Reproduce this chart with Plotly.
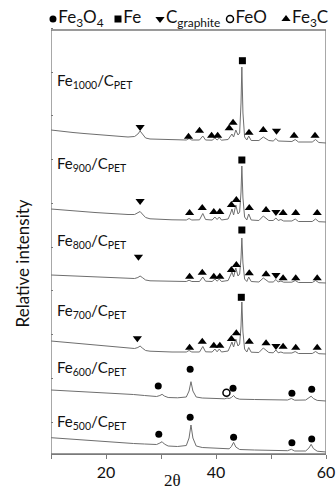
import plotly.graph_objects as go

# ---- XRD patterns (2theta in degrees, intensity in arbitrary units above each pattern's baseline) ----
samples = ["1000", "900", "800", "700", "600", "500"]
offsets = [311, 232, 171, 100, 53, 2]  # vertical stacking of the patterns

# Fe/C samples carbonised at 700-1000 share the same set of reflections
two_theta_c = [10, 12, 14, 16, 18, 20, 22, 24, 25.2, 25.8, 26.2, 26.6, 27.2, 28, 30, 32,
               34.6, 35.1, 35.6, 37.0, 37.6, 38.1, 39.3, 39.8, 40.2, 40.6, 41.0, 42.2,
               42.6, 42.9, 43.2, 43.6, 44.0, 44.3, 44.55, 44.7, 44.9, 45.2, 45.6, 45.95,
               46.4, 47.8, 48.6, 49.1, 49.6, 50.4, 50.9, 51.3, 51.8, 52.3, 53.8, 54.4,
               55.0, 57.5, 58.1, 58.7, 60]
int_1000 = [13, 11.5, 10.5, 9.5, 8.5, 7.5, 6.5, 6, 6.5, 9, 12, 9, 5, 4, 3.5, 3.2,
            3, 4.5, 3, 3, 7, 3, 2.8, 5, 3, 5, 2.8, 3.5,
            6, 9, 6, 13, 8, 10, 40, 76, 30, 6, 3, 7,
            2.5, 2.5, 6, 4, 2.5, 2, 4.5, 2, 2, 1.5, 1.5, 3.5,
            1, 1, 3.5, 0.5, 0]
int_900 = [13, 12, 11, 10.2, 9.5, 8.8, 8, 7.5, 7.5, 9, 10.5, 8, 4.5, 3.2, 2.5, 2.2,
           2, 3.5, 2, 2.2, 8.5, 2.5, 2, 5, 2.5, 5, 2, 3,
           8, 13, 7, 17, 8, 10, 30, 56, 24, 5, 2, 8,
           2, 1.5, 6, 4, 1.5, 1.5, 4, 1.5, 2.5, 1, 1, 3,
           0.5, 0.5, 3, 0.3, 0]
int_800 = [8, 7.5, 7, 6.5, 6, 5.5, 5, 4.5, 4.5, 5.5, 7, 5.5, 3, 2.2, 1.8, 1.6,
           1.5, 2.8, 1.5, 1.5, 6, 1.8, 1.5, 4, 1.8, 4, 1.5, 2.5,
           7, 11, 6, 15, 7, 9, 25, 45, 20, 4, 1.5, 6,
           1.5, 1, 5, 3, 1, 1, 3.5, 1, 2, 0.8, 0.8, 2.5,
           0.5, 0.5, 2.5, 0.3, 0]
int_700 = [13, 12, 11, 10, 9, 8, 7, 6, 5.5, 6.5, 8, 6, 3.5, 2.8, 2.3, 2,
           2, 3.5, 2, 2, 7.5, 2.2, 2, 5, 2.2, 5, 2, 3,
           8, 12, 7, 15, 8, 10, 28, 52, 22, 5, 2, 6.5,
           1.8, 1.5, 6, 4, 1.5, 1.2, 4, 1.2, 2, 1, 1, 2.5,
           0.5, 0.5, 2.5, 0.3, 0]

# Fe/C samples carbonised at 500-600 (oxide phases)
two_theta_o = [10, 13, 16, 19, 22, 25, 27, 29.2, 29.8, 30.2, 30.6, 31.3, 33, 34.6, 35.1,
               35.45, 35.8, 36.4, 37.5, 40, 41.6, 42.0, 42.4, 42.8, 43.2, 43.6, 44.3, 47,
               50, 53, 53.7, 54.3, 56.3, 56.9, 57.3, 57.7, 58.4, 60]
int_600 = [11, 10.2, 9.4, 8.5, 7.5, 6.5, 5.5, 4.5, 5.5, 6.7, 5, 3.5, 3.2, 4, 10,
           19.3, 10, 4, 3, 2.5, 2.2, 3, 2.5, 3.5, 5.5, 3, 1.8, 1.5,
           1.2, 1, 2.5, 0.8, 1, 3, 4.8, 2.5, 0.6, 0]
int_500 = [14.3, 13, 12, 11, 9.5, 8.5, 8, 7.5, 9, 10.3, 8, 6, 5.5, 6.5, 14,
           27, 14, 6, 4.5, 3.5, 3, 3, 3.2, 5.5, 9.7, 5, 2.5, 2,
           1.5, 1.3, 2.7, 1, 1, 4, 7.7, 3.5, 0.8, 0]

# ---- phase assignments (G = graphite, C = Fe3C, F = Fe, M = Fe3O4, W = FeO) ----
pk_1000_x = [26.2, 35.0, 37.0, 39.2, 40.3, 42.4, 43.1, 44.8, 46.0, 48.6, 51.0, 54.2, 58.0]
pk_1000_h = [16, 6.3, 12.3, 7.3, 7.3, 14.7, 20.3, 82.3, 10.3, 13, 12.3, 7.3, 7.3]
pk_1000_p = ["G", "C", "C", "C", "C", "C", "C", "F", "C", "C", "G", "C", "C"]

pk_900_x = [26.2, 35.2, 37.5, 39.6, 40.7, 42.8, 43.7, 44.7, 46.05, 49.1, 50.9, 52.2, 54.5, 58.4]
pk_900_h = [21, 9, 14, 10, 10, 17, 22, 62, 14, 12, 10, 9, 9, 9]
pk_900_p = ["G", "C", "C", "C", "C", "C", "C", "F", "C", "C", "G", "C", "C", "C"]

pk_800_x = [25.9, 35.2, 37.5, 39.6, 40.7, 42.8, 43.7, 44.7, 46.05, 49.1, 50.9, 52.2, 54.5, 58.4]
pk_800_h = [26.3, 6.3, 10.3, 6.3, 6.3, 13, 18, 53, 9.7, 8.7, 8, 4.7, 4.7, 4.7]
pk_800_p = pk_900_p

pk_700_x = [25.7, 35.2, 37.5, 39.6, 40.7, 42.8, 43.7, 44.6, 46.05, 49.1, 50.9, 52.2, 54.5, 58.4]
pk_700_h = [15.7, 6.3, 12.3, 8.3, 8.3, 15, 20.7, 56.7, 12.3, 10.7, 8, 7.3, 6.3, 6.3]
pk_700_p = pk_900_p

pk_600_x = [29.5, 35.3, 41.9, 43.1, 53.8, 57.4]
pk_600_h = [15, 31.7, 8.3, 12.7, 7.7, 11.7]
pk_600_p = ["M", "M", "W", "M", "M", "M"]

pk_500_x = [29.6, 35.3, 43.2, 53.8, 57.4]
pk_500_h = [17.7, 34.7, 14.7, 9.3, 13]
pk_500_p = ["M", "M", "M", "M", "M"]

x_ticks = [10, 20, 30, 40, 50, 60]
x_tick_text = ["", "20", "", "40", "", "60"]

# phase key shown above the framed panel
key_phase = ["M", "F", "G", "W", "C"]
key_name = ["Fe<sub>3</sub>O<sub>4</sub>", "Fe", "C<sub>graphite</sub>", "FeO",
            "Fe<sub>3</sub>C"]

# ---- styling ----
LINE = "#6e6e6e"
FRAME = "#7a7a7a"
FONT = "Lato"
TOP = 424          # top edge of the framed panel (data units)
KEY_Y = 435        # row of the phase key (data units, above the panel)
key_pos = [10.36, 22.18, 29.82, 42.55, 52.73]
phase_symbol = {"G": "triangle-down", "C": "triangle-up", "F": "square",
                "M": "circle", "W": "circle-open"}
phase_size = {"G": 8, "C": 8, "F": 7, "M": 7, "W": 7}

patterns = [
    (two_theta_c, int_1000, pk_1000_x, pk_1000_h, pk_1000_p),
    (two_theta_c, int_900, pk_900_x, pk_900_h, pk_900_p),
    (two_theta_c, int_800, pk_800_x, pk_800_h, pk_800_p),
    (two_theta_c, int_700, pk_700_x, pk_700_h, pk_700_p),
    (two_theta_o, int_600, pk_600_x, pk_600_h, pk_600_p),
    (two_theta_o, int_500, pk_500_x, pk_500_h, pk_500_p),
]

fig = go.Figure()
for (tx, ty, mx, mh, mp), off in zip(patterns, offsets):
    fig.add_trace(go.Scatter(x=tx, y=[v + off for v in ty], mode="lines",
                             line=dict(color=LINE, width=1), showlegend=False,
                             hoverinfo="skip"))
    for ph in ["G", "C", "F", "M", "W"]:
        xs = [x for x, p in zip(mx, mp) if p == ph]
        ys = [h + off for h, p in zip(mh, mp) if p == ph]
        if not xs:
            continue
        fig.add_trace(go.Scatter(
            x=xs, y=ys, mode="markers", showlegend=False,
            marker=dict(symbol=phase_symbol[ph], size=phase_size[ph], color="black",
                        line=dict(color="black", width=1.5 if ph == "W" else 0))))

# phase key: symbol followed by the phase name
for ph, name, kx in zip(key_phase, key_name, key_pos):
    fig.add_trace(go.Scatter(
        x=[kx], y=[KEY_Y], mode="markers+text", text=[name],
        textposition="middle right", cliponaxis=False, showlegend=False,
        hoverinfo="skip",
        textfont=dict(family=FONT, size=17, color="#111"),
        marker=dict(symbol=phase_symbol[ph], size=phase_size[ph], color="black",
                    line=dict(color="black", width=1.5 if ph == "W" else 0))))

# framed panel (the y range continues above it to hold the phase key)
fig.add_shape(type="rect", xref="x", yref="y", x0=10, x1=60, y0=0, y1=TOP,
              line=dict(color=FRAME, width=1.3), fillcolor="rgba(0,0,0,0)", layer="above")

# sample labels
label_y = [373, 290, 213, 143, 86, 32]
for s, ly in zip(samples, label_y):
    fig.add_annotation(x=10.7, y=ly, xref="x", yref="y", xanchor="left", yanchor="middle",
                       text=f"Fe<sub>{s}</sub>/C<sub>PET</sub>", showarrow=False,
                       font=dict(family=FONT, size=15, color="#111"))

# axis titles
fig.add_annotation(x=-0.105, y=0.42, xref="paper", yref="paper", xanchor="center",
                   yanchor="middle", textangle=-90, showarrow=False,
                   text="Relative intensity",
                   font=dict(family=FONT, size=17, color="#111"))
fig.add_annotation(x=0.44, y=-0.032, xref="paper", yref="paper", xanchor="center",
                   yanchor="top", showarrow=False, text="2θ",
                   font=dict(family="Liberation Serif", size=17, color="#111"))

fig.update_xaxes(range=[10, 60], tickvals=x_ticks, ticktext=x_tick_text,
                 ticks="outside", ticklen=4, tickcolor=FRAME, tickwidth=1,
                 showline=True, linecolor=FRAME, linewidth=1.3, mirror=False,
                 showgrid=False, zeroline=False,
                 tickfont=dict(family=FONT, size=16, color="#111"))
fig.update_yaxes(range=[0, 454], tick0=32, dtick=43.75, ticks="inside", ticklen=2,
                 tickcolor=FRAME, showticklabels=False, showline=False,
                 showgrid=False, zeroline=False)
fig.update_layout(width=336, height=487, margin=dict(l=51, r=10, t=0, b=33),
                  plot_bgcolor="white", paper_bgcolor="white", showlegend=False)

fig.write_html("out.html")
